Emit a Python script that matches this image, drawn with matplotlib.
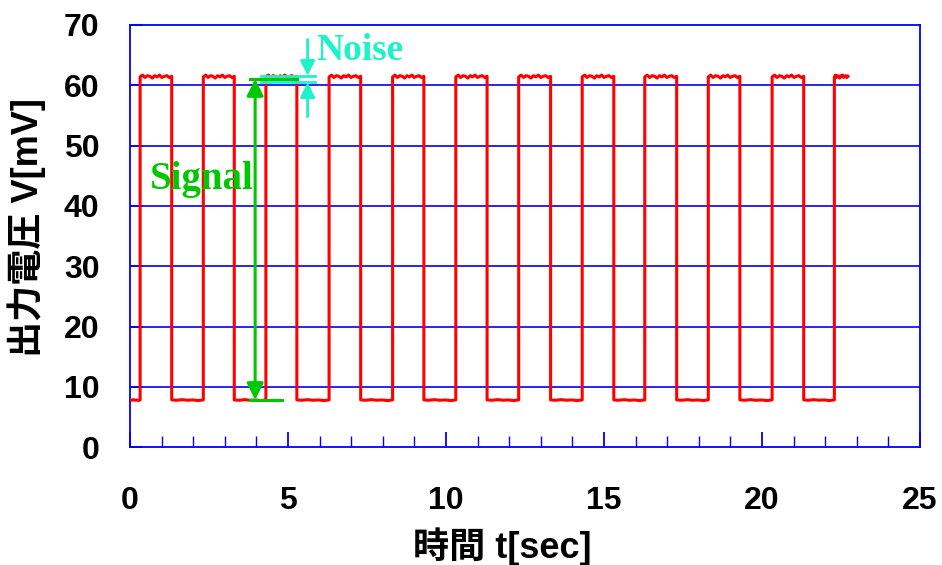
import matplotlib
matplotlib.use("Agg")
import matplotlib.pyplot as plt
from matplotlib.ticker import MultipleLocator

plt.rcParams['font.family'] = ['Liberation Sans', 'Noto Sans CJK JP', 'DejaVu Sans']

# Switching instants of the square wave [sec]; level alternates low -> high
edge_times = [0.32, 1.32, 2.32, 3.30, 4.30, 5.28, 6.30, 7.30, 8.31, 9.30,
              10.31, 11.30, 12.30, 13.31, 14.31, 15.31, 16.29, 17.30,
              18.30, 19.30, 20.32, 21.32, 22.29]
t_start = 0.0
t_end = 22.72

# Plateau samples [mV] (small ripple on each level)
high_levels = [61.4, 61.7, 61.3, 61.6, 61.5, 61.2, 61.6, 61.4, 61.7,
               61.3, 61.5, 61.6, 61.3, 61.5]
low_levels = [7.85, 7.8, 7.9, 7.8, 7.85, 7.75, 7.85]

# Annotation values [mV] / [sec]
signal_top = 61.05
signal_bottom = 7.85
signal_t = 3.96
noise_upper = 61.6
noise_lower = 60.5
noise_t = 5.62

y_ticks = [0, 10, 20, 30, 40, 50, 60, 70]
x_ticks = [0, 5, 10, 15, 20, 25]


def build_wave():
    bounds = [t_start] + edge_times + [t_end]
    ts, vs = [], []
    for i in range(len(bounds) - 1):
        a, b = bounds[i], bounds[i + 1]
        levels = low_levels if i % 2 == 0 else high_levels
        n = len(levels)
        for k, v in enumerate(levels):
            ts.append(a + (b - a) * k / (n - 1))
            vs.append(v)
    return ts, vs


fig = plt.figure(figsize=(9.42, 5.65), dpi=100)
ax = fig.add_axes([130 / 942, 1 - 447.3 / 565, 790 / 942, 422.3 / 565])

blue = '#0000FF'
red = '#FF0000'
green = '#00C800'
cyan = '#1EF2C8'

ax.set_xlim(0, 25)
ax.set_ylim(0, 70)
ax.set_xticks(x_ticks)
ax.set_yticks(y_ticks)
ax.xaxis.set_minor_locator(MultipleLocator(1))

for s in ax.spines.values():
    s.set_color(blue)
    s.set_linewidth(1.3)

for yv in y_ticks[1:-1]:
    ax.axhline(yv, color=blue, lw=1.2, zorder=1)

ax.tick_params(axis='both', which='both', direction='in', colors=blue,
               top=False, right=False)
ax.tick_params(axis='x', which='major', length=11, width=1.3, pad=28)
ax.tick_params(axis='x', which='minor', length=8, width=1.0)
ax.tick_params(axis='y', which='major', length=9, width=1.2, pad=22)
for lbl in ax.get_xticklabels() + ax.get_yticklabels():
    lbl.set_color('black')
    lbl.set_fontsize(23)
    lbl.set_fontweight('bold')

t, v = build_wave()
ax.plot(t, v, color=red, lw=2.2, zorder=3)

# Signal amplitude marker
ax.plot([3.80, 5.30], [signal_top, signal_top], color=green, lw=2.2, zorder=4)
ax.plot([3.80, 4.80], [signal_bottom, signal_bottom], color=green, lw=2.2, zorder=4)
ax.annotate('', xy=(signal_t, signal_top), xytext=(signal_t, signal_bottom),
            arrowprops=dict(arrowstyle='<|-|>', color=green, lw=2.2,
                            mutation_scale=25, shrinkA=0, shrinkB=0), zorder=5)
ax.text(0.63, 42.8, 'Signal', color=green, fontsize=28, fontweight='bold',
        family='Liberation Serif', ha='left', va='baseline', zorder=5)

# Noise band marker
ax.plot([4.14, 5.84], [noise_upper, noise_upper], color=cyan, lw=2.0, zorder=4)
ax.plot([4.14, 5.84], [noise_lower, noise_lower], color=cyan, lw=2.0, zorder=4)
ax.annotate('', xy=(noise_t, noise_upper), xytext=(noise_t, 67.6),
            arrowprops=dict(arrowstyle='-|>', color=cyan, lw=2.0,
                            mutation_scale=22, shrinkA=0, shrinkB=0), zorder=5)
ax.annotate('', xy=(noise_t, noise_lower), xytext=(noise_t, 54.8),
            arrowprops=dict(arrowstyle='-|>', color=cyan, lw=2.0,
                            mutation_scale=22, shrinkA=0, shrinkB=0), zorder=5)
ax.text(5.89, 64.2, 'Noise', color=cyan, fontsize=27, fontweight='bold',
        family='Liberation Serif', ha='left', va='baseline', zorder=5)

fig.text(502 / 942, 1 - 547 / 565, '時間 t[sec]', ha='center', va='center',
         fontsize=26, fontweight='bold')
fig.text(27 / 942, 1 - 228 / 565, '出力電圧 V[mV]', ha='center', va='center',
         rotation=90, fontsize=26, fontweight='bold')

fig.savefig('out.png', dpi=100)
